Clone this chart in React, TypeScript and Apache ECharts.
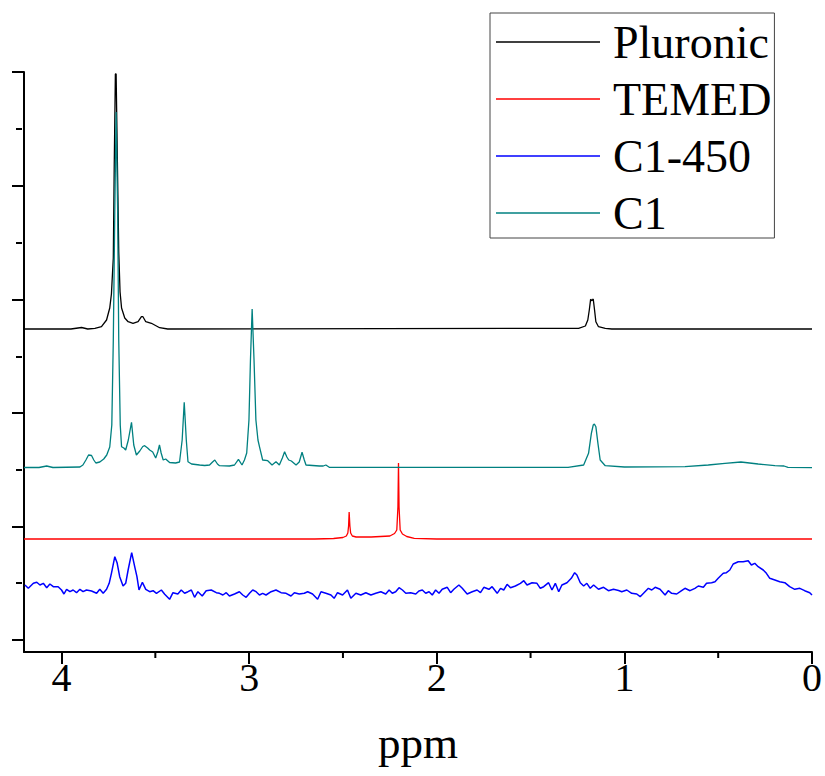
import React, { useEffect, useRef } from "react";
import * as echarts from "echarts";

const seriesNames = ["Pluronic", "TEMED", "C1-450", "C1"];
const seriesColors = ["#000000", "#ff0000", "#0000ff", "#008080"];
const seriesWidths = [1.3, 1.3, 1.5, 1.3];

const xMajorTicks = [0, 1, 2, 3, 4];
const xMinorTicks = [0.5, 1.5, 2.5, 3.5];
const yMajorTicks = [12, 125, 239, 352, 466, 580];
const yMinorTicks = [69, 182, 295, 409, 523];

// [ppm, intensity (arbitrary units, stacked offsets)]
const pluronic: number[][] = [
  [4.2, 323], [3.95, 323], [3.893, 324.5], [3.86, 323], [3.822, 323.7], [3.787, 325.3],
  [3.76, 332], [3.743, 344], [3.734, 358], [3.728, 380], [3.724, 394], [3.719, 487],
  [3.713, 578], [3.709, 578], [3.702, 487], [3.695, 400], [3.688, 360], [3.68, 344],
  [3.663, 334], [3.645, 330.3], [3.619, 328.7], [3.592, 330.3], [3.574, 335.3], [3.566, 335.3],
  [3.551, 330.3], [3.521, 328.7], [3.477, 324.3], [3.434, 323], [1.244, 323.7], [1.208, 326],
  [1.195, 332], [1.187, 342], [1.18, 352.7], [1.173, 351.3], [1.166, 353], [1.159, 342],
  [1.152, 330.3], [1.138, 325.3], [1.102, 323.7], [1.067, 323], [0, 323],
];

const temed: number[][] = [
  [4.2, 113], [2.65, 113], [2.55, 113.5], [2.5, 114.5], [2.482, 116], [2.474, 119],
  [2.47, 126], [2.467, 140], [2.463, 126], [2.459, 119], [2.45, 116], [2.43, 115],
  [2.35, 115], [2.25, 116], [2.225, 118.5], [2.213, 122], [2.207, 145], [2.204, 189],
  [2.201, 145], [2.195, 122], [2.183, 118], [2.16, 115.5], [2.12, 113.7], [2.0, 113], [0, 113],
];

const c1_450: number[][] = [
  [4.195, 67], [4.177, 63.7], [4.15, 68.7], [4.132, 69.7], [4.115, 67], [4.097, 68.7],
  [4.079, 64.3], [4.062, 68], [4.044, 65.3], [4.018, 65.3], [4.0, 62], [3.987, 58],
  [3.973, 62.7], [3.955, 60.3], [3.938, 62], [3.92, 59.3], [3.902, 62.7], [3.885, 60.3],
  [3.867, 62], [3.84, 61], [3.813, 58.7], [3.796, 62.7], [3.778, 58.7], [3.76, 62.7],
  [3.746, 68.7], [3.734, 78.7], [3.716, 95.3], [3.704, 89.3], [3.69, 75.3], [3.672, 66],
  [3.658, 68.7], [3.645, 82], [3.626, 99.3], [3.61, 85.3], [3.598, 75.3], [3.587, 62],
  [3.569, 69.7], [3.551, 62.7], [3.53, 60.3], [3.512, 61.3], [3.494, 58.7], [3.468, 62],
  [3.45, 57.7], [3.424, 52.7], [3.406, 59.3], [3.38, 58], [3.362, 62], [3.344, 58.7],
  [3.326, 60.3], [3.308, 62], [3.291, 54.7], [3.273, 60.3], [3.25, 56], [3.229, 61.3],
  [3.202, 62], [3.175, 59.3], [3.158, 58.7], [3.14, 57], [3.122, 59.3], [3.105, 56],
  [3.078, 58], [3.052, 60.3], [3.034, 57], [3.016, 54.7], [2.998, 58.7], [2.981, 62],
  [2.963, 60.3], [2.945, 57], [2.928, 58.7], [2.91, 57], [2.883, 60.3], [2.857, 62],
  [2.83, 59.3], [2.803, 58.7], [2.777, 56], [2.759, 59.3], [2.733, 58], [2.706, 58.7],
  [2.688, 60.3], [2.662, 58], [2.635, 52.7], [2.617, 60.3], [2.591, 58.7], [2.564, 57],
  [2.547, 53.7], [2.529, 59.3], [2.502, 57], [2.476, 62], [2.458, 53.7], [2.431, 58.7],
  [2.405, 57], [2.378, 59.3], [2.351, 57], [2.325, 58.7], [2.298, 60.3], [2.272, 58],
  [2.254, 62], [2.237, 58.7], [2.219, 60.3], [2.201, 64.3], [2.183, 62], [2.165, 58.7],
  [2.139, 59.3], [2.112, 58], [2.095, 61], [2.077, 62], [2.059, 58.7], [2.041, 60.3],
  [2.024, 57], [2.006, 62], [1.988, 58.7], [1.971, 62.7], [1.944, 64.7], [1.926, 59.3],
  [1.909, 62.7], [1.882, 67], [1.864, 63.7], [1.838, 58], [1.811, 60.3], [1.785, 62],
  [1.767, 59.3], [1.749, 64.7], [1.722, 62.7], [1.705, 65.3], [1.678, 58.7], [1.66, 63.7],
  [1.643, 62], [1.625, 67.7], [1.607, 64.3], [1.581, 66], [1.554, 68.7], [1.536, 71.3],
  [1.519, 67], [1.492, 69.3], [1.466, 68.7], [1.448, 63.7], [1.43, 65.3], [1.404, 69.3],
  [1.386, 62], [1.368, 68.7], [1.35, 60.3], [1.333, 67], [1.306, 69.3], [1.283, 73.7],
  [1.265, 79.3], [1.253, 77], [1.235, 69.3], [1.217, 66], [1.2, 68.7], [1.182, 63.7],
  [1.164, 67], [1.138, 62.7], [1.111, 64.7], [1.085, 61.3], [1.058, 62.7], [1.031, 61.5],
  [1.014, 60.3], [0.987, 62], [0.961, 58.7], [0.934, 58], [0.916, 55.3], [0.898, 58.7],
  [0.872, 63.7], [0.854, 62], [0.836, 64.7], [0.81, 62.7], [0.783, 57], [0.766, 61.3],
  [0.748, 58.7], [0.721, 58], [0.703, 60.3], [0.677, 63.7], [0.65, 61.3], [0.624, 63.7],
  [0.606, 66], [0.579, 64.7], [0.562, 68.7], [0.535, 69.3], [0.517, 70.3], [0.5, 73.7],
  [0.473, 78.7], [0.456, 79.3], [0.438, 82], [0.42, 88], [0.393, 90.3], [0.367, 90.3],
  [0.34, 91.3], [0.323, 87], [0.305, 88.7], [0.287, 85.3], [0.26, 82], [0.243, 78.7],
  [0.225, 73.7], [0.198, 72], [0.172, 70.3], [0.145, 69.3], [0.119, 65.3], [0.092, 62.7],
  [0.065, 63.7], [0.039, 61.3], [0.012, 59.3], [0, 57],
];

const c1: number[][] = [
  [4.2, 184.5], [4.12, 184.5], [4.079, 186], [4.046, 184.5], [3.902, 185], [3.886, 187],
  [3.87, 192], [3.856, 197], [3.84, 196.5], [3.828, 192], [3.817, 189], [3.796, 190],
  [3.775, 193], [3.759, 197], [3.743, 205], [3.732, 227], [3.724, 312], [3.716, 442],
  [3.709, 540], [3.701, 442], [3.695, 312], [3.687, 227], [3.68, 205.3], [3.668, 204],
  [3.658, 202], [3.644, 212], [3.627, 229.7], [3.615, 207], [3.601, 197], [3.583, 201],
  [3.567, 205.5], [3.557, 206.3], [3.541, 204], [3.53, 202], [3.514, 200], [3.498, 194],
  [3.487, 200], [3.478, 207], [3.469, 199], [3.458, 192], [3.445, 193], [3.424, 189.5],
  [3.392, 189], [3.371, 190], [3.357, 212], [3.346, 249.7], [3.335, 212], [3.326, 190.3],
  [3.307, 188], [3.264, 187], [3.237, 186.5], [3.211, 187], [3.195, 190], [3.183, 192],
  [3.169, 188], [3.158, 186.3], [3.105, 186], [3.078, 187], [3.057, 192.7], [3.038, 187],
  [3.025, 192], [3.013, 199], [3.001, 232], [2.993, 292], [2.984, 343], [2.974, 292],
  [2.964, 232], [2.953, 212], [2.945, 205.3], [2.928, 192], [2.901, 191.3], [2.878, 187],
  [2.857, 190.3], [2.839, 187], [2.823, 194], [2.811, 200.3], [2.799, 195], [2.789, 192],
  [2.775, 191], [2.75, 187], [2.733, 190], [2.718, 199.7], [2.706, 192], [2.697, 187],
  [2.626, 186], [2.605, 186], [2.591, 187], [2.573, 184.7], [1.3, 184.7], [1.217, 187],
  [1.191, 198.7], [1.176, 218.7], [1.166, 227], [1.16, 228], [1.152, 225.3], [1.141, 208.7],
  [1.129, 192], [1.102, 186.3], [1.0, 185], [0.677, 185.3], [0.553, 187], [0.464, 188.7],
  [0.379, 190], [0.287, 188], [0.198, 186.3], [0.149, 186], [0.128, 184.7], [0, 184.3],
];

const seriesData = [pluronic, temed, c1_450, c1];

const FONT = '"Liberation Serif", "Times New Roman", serif';

const GRID_LEFT = 24;
const GRID_RIGHT = 11;
const GRID_TOP = 72;
const GRID_BOTTOM = 124;
const W = 825;
const H = 776;

export default function App() {
  const ref = useRef<HTMLDivElement>(null);

  useEffect(() => {
    if (!ref.current) return;
    const chart = echarts.init(ref.current, null, { renderer: "svg" });
    const plotW = W - GRID_LEFT - GRID_RIGHT;
    const tickLine = { color: "#000", width: 2 };
    const lineSeries = seriesNames.map((name, i) => ({
      name,
      type: "line",
      xAxisIndex: 0,
      yAxisIndex: 0,
      data: seriesData[i],
      showSymbol: false,
      symbol: "none",
      lineStyle: { color: seriesColors[i], width: seriesWidths[i] },
      itemStyle: { color: seriesColors[i] },
      emphasis: { disabled: true },
      silent: true,
    }));
    const minorXTickSeries = {
      type: "custom",
      xAxisIndex: 0,
      yAxisIndex: 0,
      silent: true,
      clip: false,
      z: 10,
      data: xMinorTicks.map((v) => [v, 0]),
      renderItem: (_params: any, api: any) => {
        const p = api.coord([api.value(0), api.value(1)]);
        return {
          type: "line",
          shape: { x1: p[0], y1: p[1], x2: p[0], y2: p[1] + 6 },
          style: { stroke: "#000", lineWidth: 2 },
        };
      },
    };
    const option: any = {
      animation: false,
      backgroundColor: "#ffffff",
      grid: { left: GRID_LEFT, right: GRID_RIGHT, top: GRID_TOP, bottom: GRID_BOTTOM, containLabel: false },
      legend: {
        data: seriesNames,
        orient: "vertical",
        left: 490,
        top: 13,
        icon: "rect",
        itemWidth: 104,
        itemHeight: 1.5,
        itemGap: 7,
        padding: [4, 3, 0, 6],
        borderColor: "#444",
        borderWidth: 1,
        selectedMode: false,
        textStyle: {
          fontFamily: FONT,
          fontSize: 46,
          color: "#000",
          lineHeight: 50,
          padding: [0, 0, 0, 8],
        },
      },
      xAxis: {
        type: "value",
        inverse: true,
        min: 0,
        max: 4.2,
        position: "bottom",
        name: "ppm",
        nameLocation: "middle",
        nameGap: 68,
        nameTextStyle: { fontFamily: FONT, fontSize: 45, color: "#000" },
        axisLine: { show: true, onZero: false, lineStyle: tickLine },
        axisTick: { show: true, customValues: xMajorTicks, length: 12, lineStyle: tickLine },
        axisLabel: {
          show: true,
          customValues: xMajorTicks,
          fontFamily: FONT,
          fontSize: 40,
          color: "#000",
          margin: 5,
        },
        splitLine: { show: false },
      },
      yAxis: [
        {
          type: "value",
          min: 0,
          max: 580,
          position: "left",
          axisLine: { show: true, onZero: false, lineStyle: tickLine },
          axisTick: { show: true, customValues: yMajorTicks, length: 12, lineStyle: tickLine },
          axisLabel: { show: false },
          splitLine: { show: false },
        },
        {
          type: "value",
          min: 0,
          max: 580,
          position: "right",
          offset: -plotW,
          axisLine: { show: false, onZero: false },
          axisTick: { show: true, inside: true, customValues: yMinorTicks, length: 6, lineStyle: tickLine },
          axisLabel: { show: false },
          splitLine: { show: false },
        },
      ],
      series: [...lineSeries, minorXTickSeries],
    };
    chart.setOption(option);

    return () => chart.dispose();
  }, []);

  return (
    <div
      ref={ref}
      style={{ position: "absolute", left: 0, top: 0, width: W, height: H }}
    />
  );
}
